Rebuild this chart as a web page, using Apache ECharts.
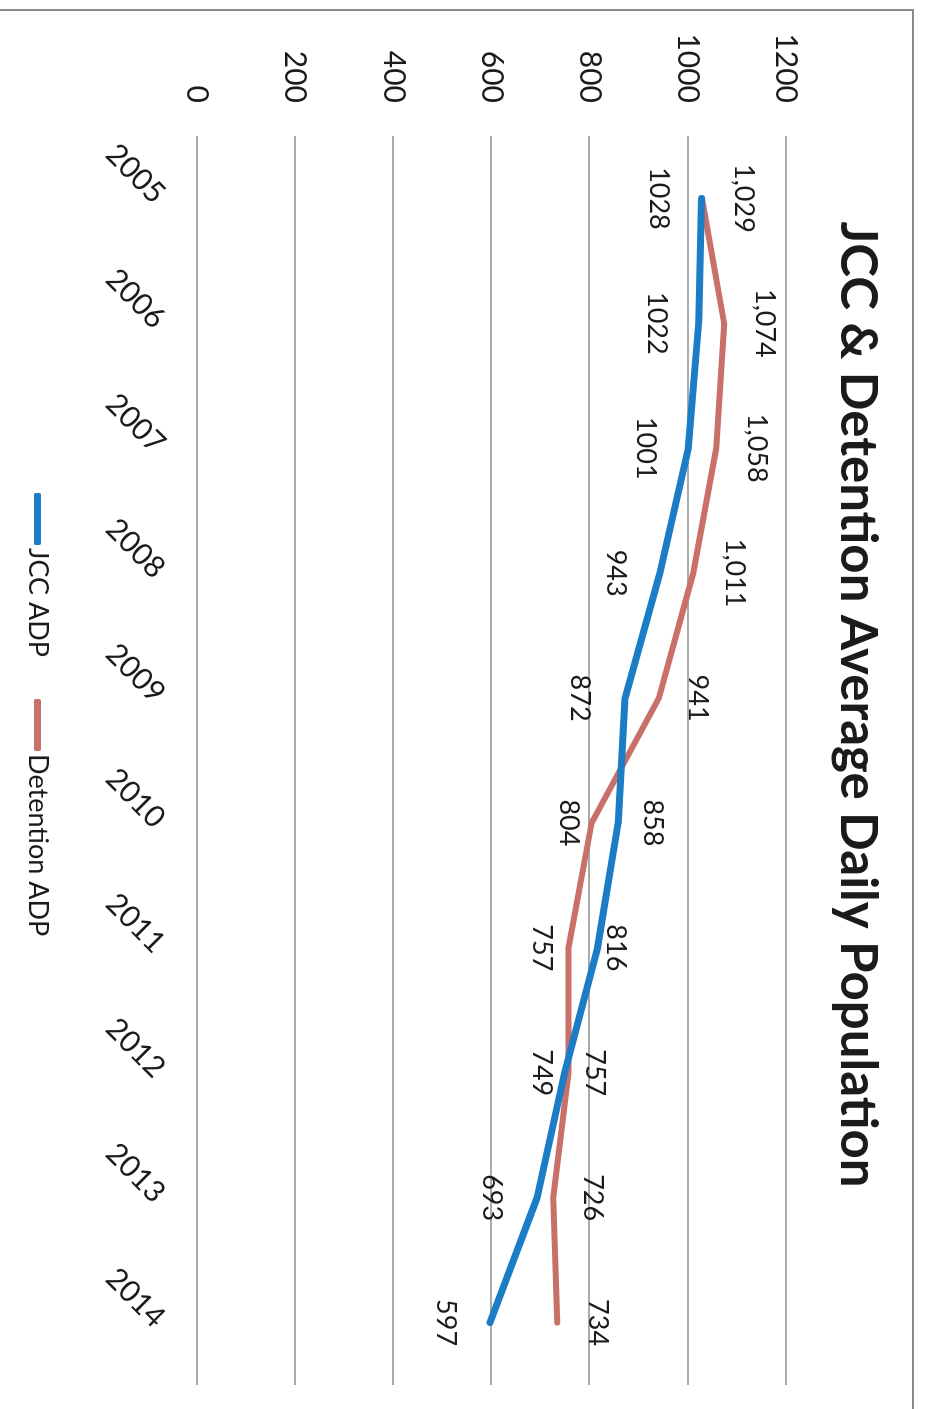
<!DOCTYPE html>
<html>
<head>
<meta charset="utf-8">
<script src="https://cdn.jsdelivr.net/npm/echarts@6/dist/echarts.min.js"></script>
<style>
  html, body { margin: 0; padding: 0; background: #fff; overflow: hidden; }
  /* the scanned chart lies on its side: draw it upright, then turn it 90deg clockwise */
  #chart {
    position: absolute; left: 0; top: 0;
    width: 1409px; height: 926px;
    transform-origin: 0 0;
    transform: translate(926px, 0) rotate(90deg);
  }
</style>
</head>
<body>
<div id="chart"></div>
<script>
"use strict"

// data
const years = ['2005', '2006', '2007', '2008', '2009', '2010', '2011', '2012', '2013', '2014'];
const jccAdp = [1028, 1022, 1001, 943, 872, 858, 816, 749, 693, 597];
const detentionAdp = [1029, 1074, 1058, 1011, 941, 804, 757, 757, 726, 734];
const yTicks = [0, 200, 400, 600, 800, 1000, 1200];

// where each data label sits, px above (+) or below (-) its point
const jccLabelShift = [-43, -42, -43, -44, -45, 35, 18, -23, -45, -44];
const detLabelShift = [42, 41, 40, 41, 39, -23, -27, 26, 39, 40];

const FONT = 'Lato, "Open Sans", sans-serif';
const TEXT = '#1b1b1b';

function withLabels(values, shifts) {
    return values.map(function (v, i) {
        return { value: v, label: { offset: [0, -shifts[i]] } };
    });
}

const chart = echarts.init(document.getElementById('chart'), null, { renderer: 'canvas' });

const option = {
    animation: false,
    backgroundColor: '#ffffff',
    title: {
        text: 'JCC & Detention Average Daily Population',
        left: 'center',
        top: 38,
        textStyle: { fontFamily: FONT, fontSize: 51, fontWeight: 'bold', color: TEXT }
    },
    legend: {
        left: 488,
        top: 870,
        icon: 'roundRect',
        itemWidth: 52,
        itemHeight: 7,
        itemGap: 42,
        textStyle: { fontFamily: FONT, fontSize: 27, color: TEXT, padding: [0, 0, 0, -2] },
        data: ['JCC ADP', 'Detention ADP']
    },
    grid: { left: 136, top: 140, width: 1249, height: 589, containLabel: false },
    xAxis: {
        type: 'category',
        data: years,
        boundaryGap: true,
        axisLine: { show: false },
        axisTick: { show: false },
        axisLabel: { rotate: 45, margin: 37, fontFamily: FONT, fontSize: 30, color: TEXT }
    },
    yAxis: {
        type: 'value',
        min: yTicks[0],
        max: yTicks[yTicks.length - 1],
        interval: yTicks[1] - yTicks[0],
        axisLine: { show: false },
        axisTick: { show: false },
        axisLabel: {
            margin: 33, fontFamily: FONT, fontSize: 30, color: TEXT,
            formatter: function (v) { return String(v); }
        },
        splitLine: { lineStyle: { color: '#8e8e8e', width: 1.5 } }
    },
    series: [{
        name: 'JCC ADP',
        type: 'line',
        data: withLabels(jccAdp, jccLabelShift),
        symbol: 'circle',
        symbolSize: 1,
        lineStyle: { color: '#1a7dc5', width: 7, cap: 'round', join: 'round' },
        itemStyle: { color: '#1a7dc5' },
        label: { show: true, position: 'inside', fontFamily: FONT, fontSize: 27, color: TEXT },
        z: 3
    }, {
        name: 'Detention ADP',
        type: 'line',
        data: withLabels(detentionAdp, detLabelShift),
        symbol: 'circle',
        symbolSize: 1,
        lineStyle: { color: '#c9706b', width: 6, cap: 'round', join: 'round' },
        itemStyle: { color: '#c9706b' },
        label: {
            show: true, position: 'inside', fontFamily: FONT, fontSize: 27, color: TEXT,
            formatter: function (p) { return p.value.toLocaleString('en-US'); }
        },
        z: 2
    }],
    graphic: [{
        type: 'rect',
        shape: { x: 10, y: 13, width: 1450, height: 960 },
        style: { fill: 'none', stroke: '#8a8a8a', lineWidth: 2 },
        silent: true
    }]
};

chart.setOption(option);
console.log('chart done');
</script>
</body>
</html>
